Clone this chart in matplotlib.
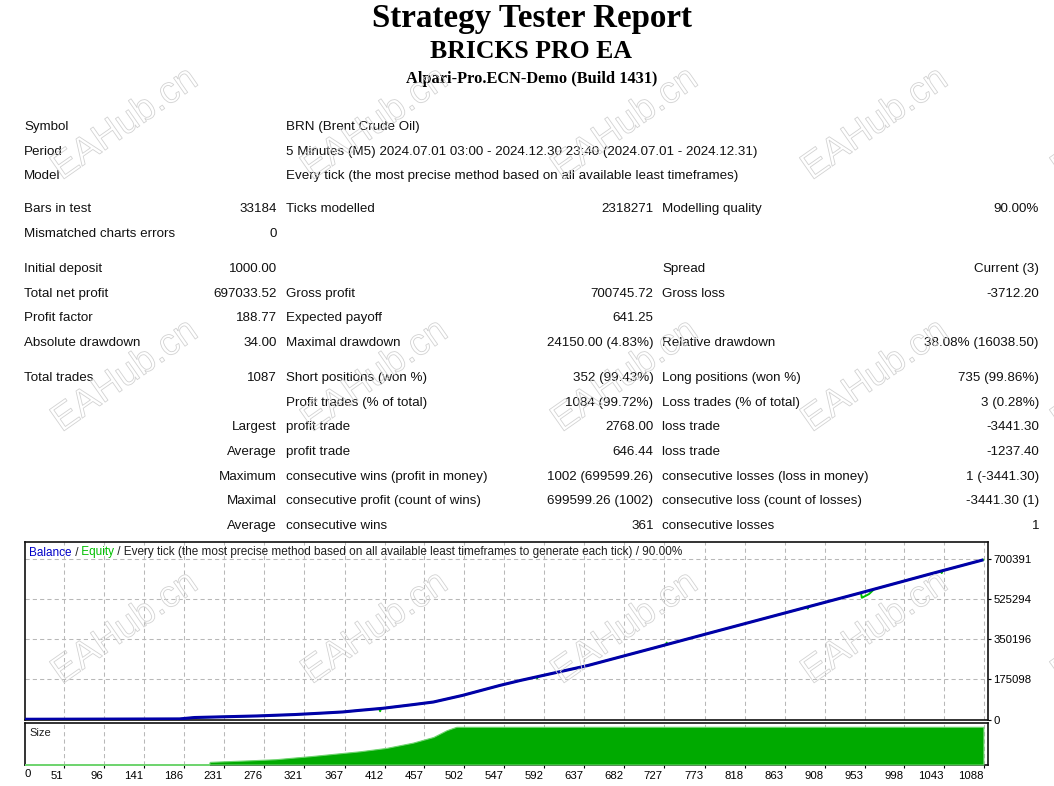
import matplotlib
matplotlib.use('Agg')
import matplotlib.pyplot as plt
import matplotlib.patheffects as pe
from matplotlib.transforms import ScaledTranslation

W, H = 1054, 786
FONT = ['Liberation Sans', 'DejaVu Sans']
SERIF = ['Liberation Serif', 'DejaVu Serif']

# ---- report header ----
title = 'Strategy Tester Report'
ea_name = 'BRICKS PRO EA'
server = 'Alpari-Pro.ECN-Demo (Build 1431)'

# ---- report table (6 columns) ----
report_rows = [
    ['Symbol', '', 'BRN (Brent Crude Oil)', '', '', ''],
    ['Period', '', '5 Minutes (M5) 2024.07.01 03:00 - 2024.12.30 23:40 (2024.07.01 - 2024.12.31)', '', '', ''],
    ['Model', '', 'Every tick (the most precise method based on all available least timeframes)', '', '', ''],
    ['Bars in test', '33184', 'Ticks modelled', '2318271', 'Modelling quality', '90.00%'],
    ['Mismatched charts errors', '0', '', '', '', ''],
    ['Initial deposit', '1000.00', '', '', 'Spread', 'Current (3)'],
    ['Total net profit', '697033.52', 'Gross profit', '700745.72', 'Gross loss', '-3712.20'],
    ['Profit factor', '188.77', 'Expected payoff', '641.25', '', ''],
    ['Absolute drawdown', '34.00', 'Maximal drawdown', '24150.00 (4.83%)', 'Relative drawdown', '38.08% (16038.50)'],
    ['Total trades', '1087', 'Short positions (won %)', '352 (99.43%)', 'Long positions (won %)', '735 (99.86%)'],
    ['', '', 'Profit trades (% of total)', '1084 (99.72%)', 'Loss trades (% of total)', '3 (0.28%)'],
    ['', 'Largest', 'profit trade', '2768.00', 'loss trade', '-3441.30'],
    ['', 'Average', 'profit trade', '646.44', 'loss trade', '-1237.40'],
    ['', 'Maximum', 'consecutive wins (profit in money)', '1002 (699599.26)', 'consecutive losses (loss in money)', '1 (-3441.30)'],
    ['', 'Maximal', 'consecutive profit (count of wins)', '699599.26 (1002)', 'consecutive loss (count of losses)', '-3441.30 (1)'],
    ['', 'Average', 'consecutive wins', '361', 'consecutive losses', '1'],
]

# ---- balance / equity curve (trade number -> money) ----
balance_trades = [0, 100, 181, 198, 269, 311, 339, 365, 381, 410, 444, 467, 500,
                  542, 565, 641, 718, 795, 872, 949, 1025, 1087]
balance_values = [1000, 1800, 2600, 8700, 15600, 21700, 27400, 33000, 39000, 49000,
                  65000, 76400, 105500, 149000, 170600, 235800, 315200, 395100,
                  474600, 554000, 634000, 698033]
# equity deviations from balance (open trades)
equity_trades = [406, 407, 408, 583, 584, 585, 729, 730, 731, 888, 889, 890,
                 950, 958, 964, 1039, 1040, 1041]
equity_values = [47600, 36000, 48300, 186000, 180000, 187800, 326600, 336000, 328700,
                 491100, 484000, 493200, 532000, 548000, 569800, 648500, 640000, 650600]

# ---- lot size panel (relative lot size) ----
size_trades = [0, 214, 215, 259, 289, 313, 328, 358, 384, 414, 444, 467, 482, 493, 1087]
size_lots = [0, 0, 0.07, 0.11, 0.14, 0.19, 0.22, 0.29, 0.35, 0.44, 0.58, 0.73, 0.91, 1.00, 1.00]

x_ticks = [51, 96, 141, 186, 231, 276, 321, 367, 412, 457, 502, 547, 592, 637, 682,
           727, 773, 818, 863, 908, 953, 998, 1043, 1088]
y_ticks = [0, 175098, 350196, 525294, 700391]

# leading spaces are measured, trailing ones are not
legend_parts = [('Balance', '#0000c8'), (' /', '#202020'), (' Equity', '#00c000'),
                (' / Every tick (the most precise method based on all available least '
                 'timeframes to generate each tick) / 90.00%', '#202020')]


def fy(y):
    return 1 - y / H


fig = plt.figure(figsize=(W / 100, H / 100), dpi=100)
fig.patch.set_facecolor('white')

# header
fig.text(531.5 / W, fy(26.7), title, family=SERIF, weight='bold', fontsize=23.8,
         ha='center', va='baseline')
fig.text(531.5 / W, fy(58.3), ea_name, family=SERIF, weight='bold', fontsize=18.5,
         ha='center', va='baseline')
fig.text(531.5 / W, fy(83.3), server, family=SERIF, weight='bold', fontsize=11.8,
         ha='center', va='baseline')

# table
row_y = [125.7, 150.7, 174.3, 207.7, 232.7, 267.3, 292.7, 316.7, 341.7, 376.7,
         401.7, 425.7, 450.7, 475, 499.3, 524]
col_x = [24, 277, 286, 653.5, 662.5, 1039]
col_ha = ['left', 'right', 'left', 'right', 'left', 'right']
for row, y in zip(report_rows, row_y):
    for txt, x, ha in zip(row, col_x, col_ha):
        if txt:
            fig.text(x / W, fy(y + 4.6), txt, family=FONT, fontsize=9.6,
                     ha=ha, va='baseline', color='#111111')

# main chart
ax = fig.add_axes([25 / W, fy(719.5), 963 / W, 178 / H])
ax_s = fig.add_axes([25 / W, fy(764.5), 963 / W, 42 / H])

xmin, xmax = 6.7, 1092.2
grid_kw = dict(color='#b8b8b8', lw=0.75, ls=(0, (4, 3)))

ax.plot(sorted(balance_trades + equity_trades),
        [v for _, v in sorted(zip(balance_trades + equity_trades, balance_values + equity_values))],
        color='#00c000', lw=1.4, zorder=3)
ax.plot(balance_trades, balance_values, color='#0000a8', lw=2.2, zorder=4,
        solid_capstyle='butt')
ax.set_xlim(xmin, xmax)
ax.set_ylim(0, 778000)
ax.set_xticks(x_ticks)
ax.set_yticks(y_ticks, [str(v) for v in y_ticks])
ax.grid(True, **grid_kw)
ax.set_axisbelow(True)
ax.tick_params(axis='x', length=0, labelbottom=False)
ax.tick_params(axis='y', left=False, labelleft=False, right=True, labelright=True,
               direction='out', length=2.2, width=0.8, pad=1.5, labelsize=8.2)
for lab in ax.get_yticklabels():
    lab.set_family(FONT)

ax_s.fill_between(size_trades, size_lots, color='#00aa00', edgecolor='#70d470',
                  lw=0.8, zorder=3)
ax_s.set_xlim(xmin, xmax)
ax_s.set_ylim(0, 42 / 37.7)
ax_s.set_xticks(x_ticks, [str(v) for v in x_ticks])
ax_s.set_yticks([])
ax_s.grid(True, axis='x', **grid_kw)
ax_s.set_axisbelow(True)
ax_s.tick_params(axis='x', direction='out', length=2.5, width=0.8, pad=2.5, labelsize=8.2)
for lab in ax_s.get_xticklabels():
    lab.set_family(FONT)
    lab.set_horizontalalignment('right')
    lab.set_transform(lab.get_transform() + ScaledTranslation(-0.01, 0, fig.dpi_scale_trans))
ax_s.annotate('0', xy=(0, 0), xycoords='axes fraction', xytext=(2.5, -4.8),
              textcoords='offset pixels', ha='center', va='top', fontsize=8.2, family=FONT)
ax_s.text(4 / 963, 1 - 10 / 42, 'Size', transform=ax_s.transAxes, fontsize=8,
          family=FONT, va='center', ha='left', color='#202020')

for a in (ax, ax_s):
    for sp in a.spines.values():
        sp.set_linewidth(1.2)
        sp.set_color('#111111')

# legend line of the chart
renderer = fig.canvas.get_renderer()
x = 29
for txt, col in legend_parts:
    t = fig.text(x / W, fy(555.5), txt, color=col, fontsize=8.45, family=FONT,
                 ha='left', va='baseline')
    x += t.get_window_extent(renderer).width

# watermarks
for wy in [124, 376, 628]:
    for wx in [125, 375, 625, 875, 1125]:
        fig.text(wx / W, fy(wy), 'EAHub.cn', family=FONT, fontsize=27, rotation=35,
                 rotation_mode='anchor', ha='center', va='center',
                 color=(1, 1, 1, 0), zorder=10,
                 path_effects=[pe.Stroke(linewidth=0.6, foreground='#d2d2d2')])

fig.savefig('out.png', dpi=100)
